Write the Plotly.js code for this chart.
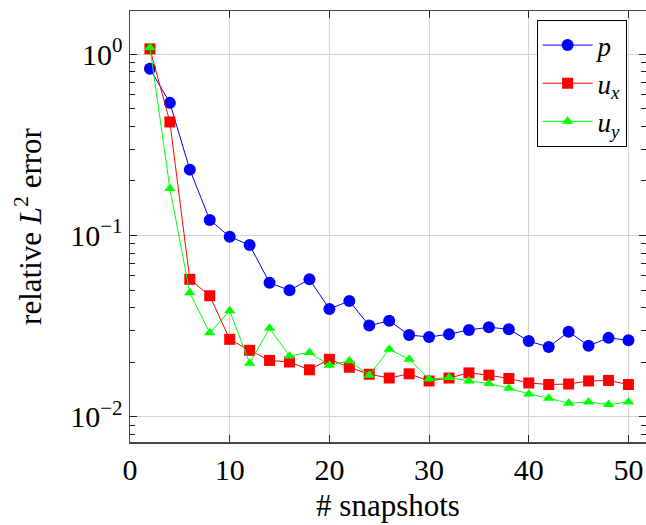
<!DOCTYPE html>
<html>
<head>
<meta charset="utf-8">
<script src="https://cdn.plot.ly/plotly-3.0.1.min.js"></script>
<style>html,body{margin:0;padding:0;background:#fff;}#chart{width:646px;height:525px;}</style>
</head>
<body>
<div id="chart"></div>
<script>
var snapshots = [2,4,6,8,10,12,14,16,18,20,22,24,26,28,30,32,34,36,38,40,42,44,46,48,50];
var errP  = [0.83,0.539,0.231,0.122,0.0986,0.0887,0.0550,0.0499,0.0574,0.0394,0.0436,0.0319,0.0339,0.0283,0.0276,0.0286,0.0302,0.0312,0.0305,0.0262,0.0243,0.0295,0.0247,0.0273,0.0265];
var errUx = [1.07,0.423,0.0574,0.0466,0.0268,0.0233,0.0205,0.0201,0.0182,0.0208,0.0188,0.0172,0.0164,0.0173,0.0158,0.0164,0.0175,0.0170,0.0163,0.0154,0.0151,0.0152,0.0158,0.0159,0.0151];
var errUy = [1.09,0.182,0.0484,0.0291,0.0385,0.0198,0.0308,0.0217,0.0227,0.0193,0.0204,0.0170,0.0236,0.0208,0.0162,0.0165,0.0158,0.0153,0.0144,0.0134,0.0127,0.0119,0.0121,0.0117,0.0121];
var seriesNames = ['<i>p</i>', '<i>u<sub>x</sub></i>', '<i>u<sub>y</sub></i>'];
var yTickVals = [1, 0.1, 0.01];
var yTickText = ['10<sup>0</sup>', '10<sup>−1</sup>', '10<sup>−2</sup>'];
var xTickVals = [0,10,20,30,40,50];

var minorVals = [];
[0.001,0.01,0.1,1].forEach(function(d){ for (var k=2;k<=9;k++) minorVals.push(d*k); });

var font = 'Liberation Serif';
var fs = 30;
function tr(y, name, color, symbol, size) {
  return {x: snapshots, y: y, name: name, type: 'scatter', mode: 'lines+markers',
    line: {color: color, width: 1},
    marker: {color: color, symbol: symbol, size: size, line: {width: 0}}};
}
var data = [
  tr(errP, seriesNames[0], '#0000ff', 'circle', 12),
  tr(errUx, seriesNames[1], '#ff0000', 'square', 11),
  tr(errUy, seriesNames[2], '#00ff00', 'triangle-up', 10)
];
var layout = {
  width: 646, height: 525,
  margin: {l: 130, r: 0, t: 11, b: 83},
  paper_bgcolor: '#fff', plot_bgcolor: '#fff',
  font: {family: font, size: fs, color: '#000'},
  showlegend: true,
  legend: {x: 0.788, y: 0.979, xanchor: 'left', yanchor: 'top',
    bordercolor: '#000', borderwidth: 1, bgcolor: '#fff',
    font: {family: font, size: 27}, tracegroupgap: 0, itemwidth: 50},
  xaxis: {range: [0, 51.76], tickvals: xTickVals, ticks: 'inside', ticklen: 7,
    tickcolor: '#222', showline: true, linecolor: '#444', linewidth: 1.5, mirror: 'ticks',
    showgrid: true, gridcolor: '#d4d4d4', gridwidth: 1, zeroline: false,
    tickfont: {family: font, size: fs},
    title: {text: '# snapshots', font: {family: font, size: 31}, standoff: 10}},
  yaxis: {type: 'log', range: [Math.log10(0.00728), Math.log10(1.73)],
    tickvals: yTickVals, ticktext: yTickText, ticks: 'inside', ticklen: 7,
    tickcolor: '#222', showline: true, linecolor: '#444', linewidth: 1.5, mirror: 'ticks',
    showgrid: true, gridcolor: '#d4d4d4', gridwidth: 1, zeroline: false,
    tickfont: {family: font, size: fs},
    minor: {tickvals: minorVals, ticks: 'inside', ticklen: 5, tickcolor: '#222', showgrid: false},
    title: {text: 'relative <i>L</i><sup>2</sup> error', font: {family: font, size: 31}, standoff: 19}}
};
Plotly.newPlot('chart', data, layout, {displayModeBar: false, staticPlot: true});
</script>
</body>
</html>
